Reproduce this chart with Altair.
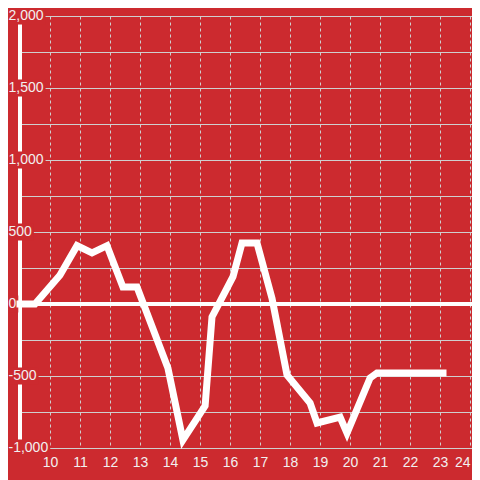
import altair as alt
import pandas as pd

# data series (hours vs value)
hours = [9, 9.5, 10.33, 10.9, 11.4, 11.9, 12.43, 12.9, 13.93, 14.43, 15.17, 15.4,
         16.1, 16.4, 16.9, 17.4, 17.9, 18.67, 18.9, 19.67, 19.9, 20.67, 20.9, 23.1]
values = [0, 0, 200, 405, 355, 405, 118, 118, -444, -945, -708, -90,
          190, 423, 423, 40, -493, -688, -826, -785, -896, -514, -479, -479]

y_ticks = [-1000, -500, 0, 500, 1000, 1500, 2000]
y_grid = list(range(-1000, 2001, 250))
x_ticks = list(range(10, 25))

BG = "#cc2a2f"
TXT = "#f2f0f0"
GRID = "#cfcfcf"
FONT = "Liberation Sans"


def fmt(v):
    return f"{v:,}"


def text_w(s):
    w = 0.0
    for ch in s:
        if ch.isdigit():
            w += 7.79
        elif ch == ",":
            w += 3.89
        else:
            w += 4.66
    return w


line_df = pd.DataFrame({"h": hours, "v": values})
lab_df = pd.DataFrame({"v": y_ticks})
lab_df["label"] = [fmt(v) for v in y_ticks]
lab_df["w"] = [text_w(s) for s in lab_df["label"]]

PW = 452
xs = alt.Scale(domain=[9, 9 + PW / 30], nice=False, zero=False)
ys = alt.Scale(domain=[-1000, 2000], nice=False, zero=False)

x_axis = alt.Axis(values=x_ticks, grid=True, gridDash=[3, 3], gridColor=GRID,
                  gridWidth=1, domain=False, ticks=False, labelFontSize=14,
                  labelColor=TXT, labelFont=FONT, labelPadding=7,
                  labelFlush=False, labelOverlap=False, labelBound=False,
                  labelAlign=alt.expr("datum.value >= 24 ? 'right' : 'center'"))
y_axis = alt.Axis(values=y_grid, grid=True, gridColor=GRID, gridWidth=1,
                  labels=False, ticks=False, domain=False)

axis_line = alt.Chart(line_df).mark_rule(color="white", strokeWidth=3).encode(
    x=alt.value(0),
    y=alt.value(0),
    y2=alt.value(432),
)

zero_rule = alt.Chart(line_df).mark_rule(color="white", strokeWidth=4).encode(
    y=alt.datum(0, scale=ys, axis=y_axis, title=None),
    x=alt.value(-3),
    x2=alt.value(PW),
)

boxes = alt.Chart(lab_df).transform_calculate(
    bx="-12.5",
    bx2="-9.5 + datum.w",
    by="datum.v - 59",
    by2="datum.v + 59",
).mark_rect(color=BG).encode(
    x=alt.X("bx:Q", scale=None),
    x2="bx2:Q",
    y=alt.Y("by:Q", scale=ys, axis=y_axis, title=None),
    y2="by2:Q",
)

labels = alt.Chart(lab_df).transform_calculate(
    left="-11.5",
).mark_text(align="left", baseline="middle", fontSize=14, color=TXT, font=FONT).encode(
    x=alt.X("left:Q", scale=None),
    y=alt.Y("v:Q", scale=ys, axis=y_axis, title=None),
    text="label:N",
)

line = alt.Chart(line_df).mark_line(color="white", strokeWidth=7, strokeCap="square",
                                     strokeJoin="miter").encode(
    x=alt.X("h:Q", scale=xs, axis=x_axis, title=None),
    y=alt.Y("v:Q", scale=ys, axis=y_axis, title=None),
)

chart = alt.layer(axis_line, zero_rule, boxes, labels, line).properties(
    width=PW,
    height=432,
    padding={"left": 12, "top": 8, "right": 0, "bottom": 32},
    autosize=alt.AutoSizeParams(type="none"),
    background=BG,
).configure_view(stroke=None)

chart.save("out.html", embed_options={"renderer": "svg", "actions": False})
